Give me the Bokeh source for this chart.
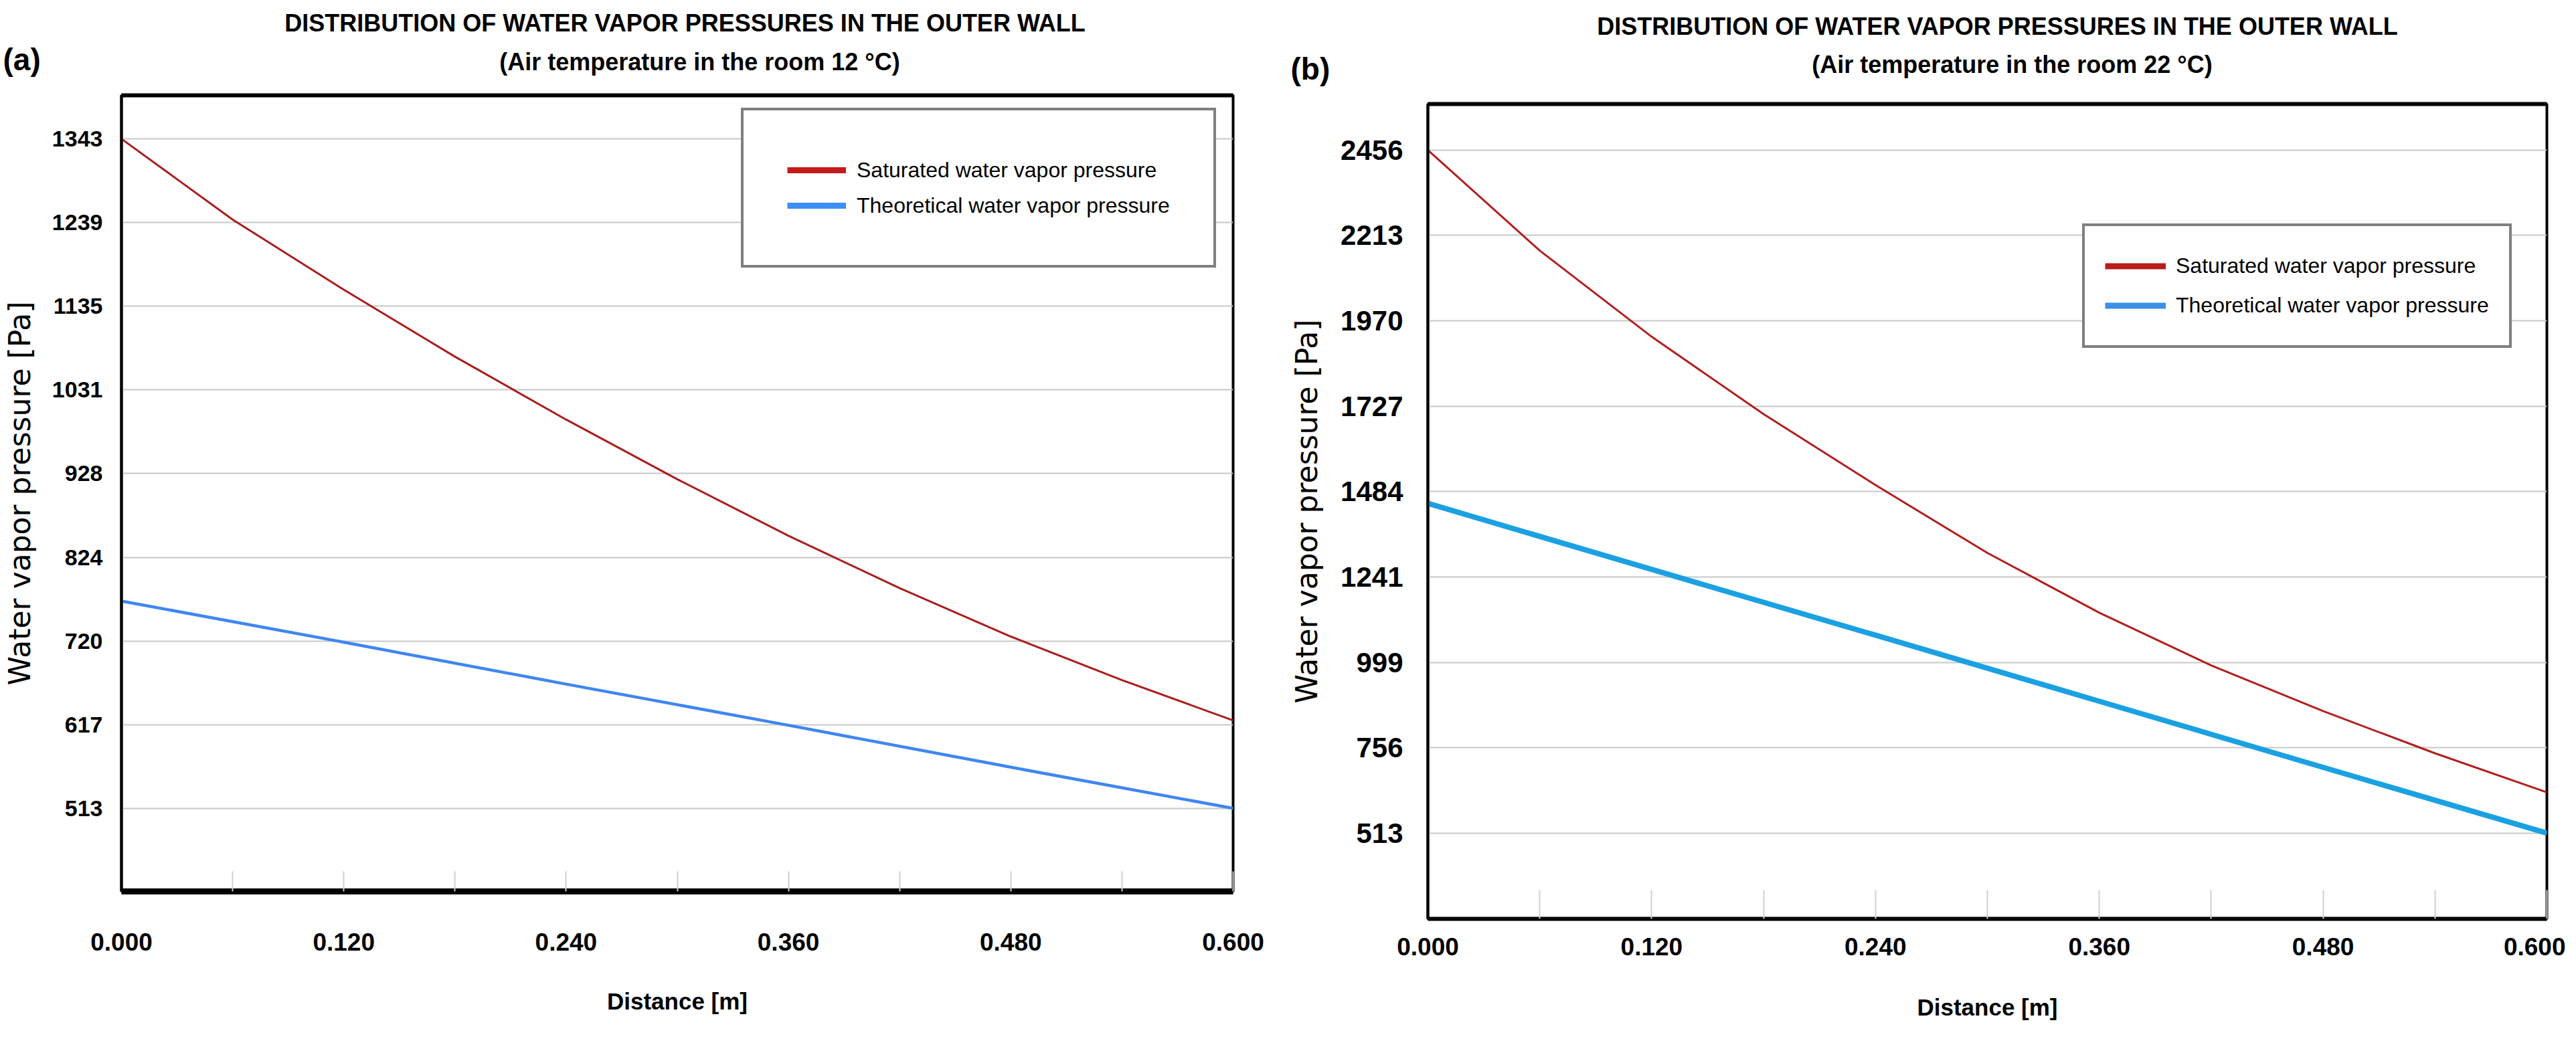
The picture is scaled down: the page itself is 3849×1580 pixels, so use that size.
import math
from bokeh.plotting import figure
from bokeh.models import FixedTicker, Legend, LegendItem, LinearAxis, Range1d
from bokeh.layouts import row, column
from bokeh.embed import file_html
from bokeh.resources import INLINE
from bokeh.core.properties import value

# ---------------- data ----------------
distance = [0.00, 0.06, 0.12, 0.18, 0.24, 0.30, 0.36, 0.42, 0.48, 0.54, 0.60]
saturated_12 = [1343, 1243, 1156, 1073, 995, 921, 851, 786, 726, 672, 622]
saturated_22 = [2456, 2170, 1925, 1705, 1503, 1310, 1140, 990, 860, 740, 629]

distance_theo = [0.00, 0.12, 0.24, 0.36, 0.48, 0.60]
theoretical_12 = [770, 719, 667, 616, 564, 513]
theoretical_22 = [1451, 1263, 1076, 888, 700, 513]

x_ticks = [0.00, 0.12, 0.24, 0.36, 0.48, 0.60]
x_minor_ticks = [0.06, 0.18, 0.30, 0.42, 0.54]
x_tick_labels = ["0.000", "0.120", "0.240", "0.360", "0.480", "0.600"]

y_ticks_12 = [513, 616.75, 720.5, 824.25, 928, 1031.75, 1135.5, 1239.25, 1343]
y_tick_labels_12 = ["513", "617", "720", "824", "928", "1031", "1135", "1239", "1343"]
y_ticks_22 = [513, 755.875, 998.75, 1241.625, 1484.5, 1727.375, 1970.25, 2213.125, 2456]
y_tick_labels_22 = ["513", "756", "999", "1241", "1484", "1727", "1970", "2213", "2456"]

title_main = "DISTRIBUTION OF WATER VAPOR PRESSURES IN THE OUTER WALL"
subtitle_12 = "(Air temperature in the room 12 °C)"
subtitle_22 = "(Air temperature in the room 22 °C)"
label_sat = "Saturated water vapor pressure"
label_theo = "Theoretical water vapor pressure"
x_title = "Distance [m]"
y_title = "Water vapor pressure [Pa]"

SANS = "Liberation Sans"
WIDE = "DejaVu Sans"
NAN = [math.nan]

HEADER_H = 132
TOTAL_W = 3833
MAIN_H = 1564 - HEADER_H


def build(cfg):
    p = figure(width=cfg["width"], height=MAIN_H, output_backend="svg", toolbar_location=None,
               title=None, x_range=Range1d(0.0, 0.6), y_range=Range1d(*cfg["yrange"]),
               min_border_left=cfg["mb"][0], min_border_right=cfg["mb"][1],
               min_border_top=cfg["mb"][2], min_border_bottom=cfg["mb"][3])
    p.background_fill_color = "white"
    p.border_fill_color = "white"
    p.outline_line_color = "black"
    p.outline_line_width = 4

    # x axis
    xa = p.xaxis[0]
    xa.ticker = FixedTicker(ticks=x_ticks, minor_ticks=x_minor_ticks)
    xa.major_label_overrides = {t: l for t, l in zip(x_ticks, x_tick_labels)}
    xa.axis_line_color = "black"
    xa.axis_line_width = cfg["xline"]
    xa.major_tick_in = cfg["tick_in"]
    xa.major_tick_out = 0
    xa.minor_tick_in = cfg["tick_in"]
    xa.minor_tick_out = 0
    xa.major_tick_line_color = "#d0d0d0"
    xa.minor_tick_line_color = "#d0d0d0"
    xa.major_tick_line_width = 2
    xa.minor_tick_line_width = 2
    xa.major_label_text_font = SANS
    xa.major_label_text_font_style = "bold"
    xa.major_label_text_font_size = "37px"
    xa.major_label_text_color = "black"
    xa.major_label_standoff = cfg["xstand"]
    xa.axis_label = x_title
    xa.axis_label_text_font = SANS
    xa.axis_label_text_font_style = "bold"
    xa.axis_label_text_font_size = "35px"
    xa.axis_label_text_color = "black"
    xa.axis_label_standoff = cfg["xlabstand"]

    # y axis
    ya = p.yaxis[0]
    ya.ticker = FixedTicker(ticks=cfg["yticks"], minor_ticks=[])
    ya.major_label_overrides = {t: l for t, l in zip(cfg["yticks"], cfg["ylabels"])}
    ya.axis_line_color = "black"
    ya.axis_line_width = 4
    ya.major_tick_line_color = None
    ya.minor_tick_line_color = None
    ya.major_tick_out = 0
    ya.minor_tick_out = 0
    ya.major_label_text_font = SANS
    ya.major_label_text_font_style = "bold"
    ya.major_label_text_font_size = cfg["yfont"]
    ya.major_label_text_color = "black"
    ya.major_label_standoff = cfg["ystand"]
    ya.axis_label = y_title
    ya.axis_label_text_font = WIDE
    ya.axis_label_text_font_style = "normal"
    ya.axis_label_text_font_size = "44px"
    ya.axis_label_text_color = "black"
    ya.axis_label_standoff = cfg["ylabstand"]

    # thick top border
    top = LinearAxis(ticker=FixedTicker(ticks=[]), axis_line_color="black", axis_line_width=6,
                     major_tick_line_color=None, minor_tick_line_color=None,
                     major_tick_out=0, minor_tick_out=0, major_tick_in=0, minor_tick_in=0,
                     major_label_standoff=0, major_label_text_font_size="0px")
    p.add_layout(top, "above")

    p.xgrid.grid_line_color = None
    p.ygrid.ticker = FixedTicker(ticks=cfg["yticks"], minor_ticks=[])
    p.ygrid.grid_line_color = "#c8c8c8"
    p.ygrid.grid_line_width = 2

    p.line(distance, cfg["sat"], line_color=cfg["sat_color"], line_width=3)
    p.line(distance_theo, cfg["theo"], line_color=cfg["theo_color"], line_width=cfg["theo_width"])

    # legend-only renderers (legend glyphs are thicker than the plotted lines)
    lg_sat = p.line(x=NAN, y=NAN, line_color=cfg["leg_sat_color"], line_width=9)
    lg_theo = p.line(x=NAN, y=NAN, line_color=cfg["leg_theo_color"], line_width=9)
    lg = cfg["legend"]
    legend = Legend(items=[LegendItem(label=label_sat, renderers=[lg_sat]),
                           LegendItem(label=label_theo, renderers=[lg_theo])],
                    location=lg["loc"], padding=lg["pad"], spacing=lg["spacing"],
                    glyph_width=lg["gw"], glyph_height=lg["h"], label_height=lg["h"],
                    label_standoff=lg["standoff"], margin=0,
                    label_text_font=SANS, label_text_font_size="32px",
                    label_text_color="black",
                    border_line_color="black", border_line_width=4,
                    background_fill_color="white", background_fill_alpha=1.0)
    p.add_layout(legend, "center")
    return p


left = build(dict(
    width=1924, yrange=(410, 1397), mb=(177, 82, 10, 232),
    xline=9, tick_in=30, xstand=62, xlabstand=53,
    yticks=y_ticks_12, ylabels=y_tick_labels_12, yfont="34px", ystand=28, ylabstand=20,
    sat=saturated_12, theo=theoretical_12,
    sat_color="#A81E1E", theo_color="#3F86F0", theo_width=4.5,
    leg_sat_color="#C41A1A", leg_theo_color="#3D8EF5",
    legend=dict(loc=(926, 932), pad=65, spacing=5, gw=88, h=48, standoff=16),
))

right = build(dict(
    width=1909, yrange=(269, 2587), mb=(208, 28, 23, 191),
    xline=6, tick_in=43, xstand=28, xlabstand=55,
    yticks=y_ticks_22, ylabels=y_tick_labels_22, yfont="42px", ystand=37, ylabstand=22,
    sat=saturated_22, theo=theoretical_22,
    sat_color="#B01F1F", theo_color="#1BA1E2", theo_width=8,
    leg_sat_color="#B81C1C", leg_theo_color="#3D8EE6",
    legend=dict(loc=(978, 853), pad=30, spacing=0, gw=91, h=59, standoff=15),
))

# ---------------- header (titles and panel letters) ----------------
header = figure(width=TOTAL_W, height=HEADER_H, output_backend="svg", toolbar_location=None,
                title=None, x_axis_type=None, y_axis_type=None, min_border=0,
                x_range=Range1d(0, TOTAL_W), y_range=Range1d(0, HEADER_H))
header.outline_line_color = None
header.background_fill_color = "white"
header.border_fill_color = "white"
header.grid.visible = False

header.text(x=[1023, 2984], y=[98, 93], text=[title_main, title_main],
            text_font=value(SANS), text_font_style="bold", text_font_size="36px",
            text_align="center", text_baseline="middle", text_color="black")
header.text(x=[1045, 3006], y=[40, 36], text=[subtitle_12, subtitle_22],
            text_font=value(SANS), text_font_style="bold", text_font_size="36px",
            text_align="center", text_baseline="middle", text_color="black")
header.text(x=[4, 1928], y=[44, 30], text=["(a)", "(b)"],
            text_font=value(SANS), text_font_style="bold", text_font_size="46px",
            text_align="left", text_baseline="middle", text_color="black")

# each panel wrapped in its own column so that the two plot frames are not aligned
layout = column(header, row(column(left), column(right), spacing=0), spacing=0)
open("out.html", "w").write(file_html(layout, INLINE))
